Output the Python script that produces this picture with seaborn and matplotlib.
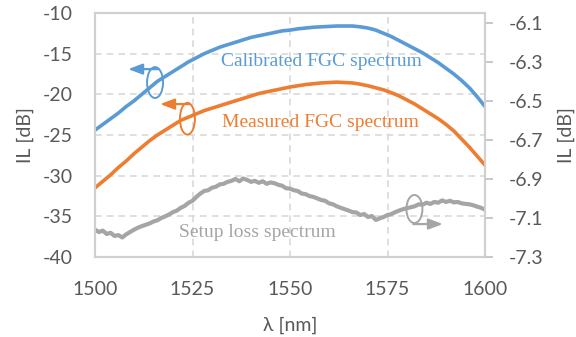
import numpy as np
import pandas as pd
import matplotlib
matplotlib.use("Agg")
import matplotlib.pyplot as plt
from matplotlib.patches import Ellipse
import seaborn as sns

# ---------------- data ----------------
wl_fgc = list(range(1500, 1601, 2))
calibrated = [-24.4, -23.7, -23.0, -22.3, -21.5, -20.8, -20.0, -19.2, -18.4, -17.8,
              -17.2, -16.6, -16.0, -15.5, -15.0, -14.6, -14.2, -13.9, -13.6, -13.3,
              -13.0, -12.8, -12.6, -12.4, -12.2, -12.1, -11.95, -11.85, -11.75, -11.7,
              -11.65, -11.6, -11.6, -11.6, -11.7, -11.85, -12.1, -12.5, -12.9, -13.4,
              -13.9, -14.4, -14.9, -15.5, -16.1, -16.8, -17.5, -18.3, -19.2, -20.3, -21.5]
measured = [-31.5, -30.7, -29.9, -29.0, -28.2, -27.3, -26.5, -25.7, -25.0, -24.4,
            -23.8, -23.2, -22.8, -22.4, -22.0, -21.7, -21.4, -21.1, -20.8, -20.5,
            -20.2, -19.9, -19.7, -19.5, -19.3, -19.1, -18.95, -18.8, -18.7, -18.6,
            -18.55, -18.5, -18.55, -18.6, -18.75, -18.95, -19.2, -19.45, -19.8, -20.2,
            -20.7, -21.2, -21.8, -22.4, -23.0, -23.7, -24.5, -25.5, -26.5, -27.6, -28.7]
wl_setup = list(range(1500, 1601, 1))
setup = [-7.160, -7.172, -7.165, -7.182, -7.176, -7.192, -7.188, -7.200, -7.184, -7.172,
         -7.160, -7.150, -7.142, -7.135, -7.128, -7.118, -7.112, -7.100, -7.092, -7.082,
         -7.070, -7.062, -7.048, -7.038, -7.022, -7.012, -6.992, -6.975, -6.962, -6.958,
         -6.945, -6.940, -6.928, -6.925, -6.915, -6.910, -6.900, -6.912, -6.898, -6.905,
         -6.915, -6.910, -6.920, -6.912, -6.925, -6.918, -6.922, -6.930, -6.935, -6.948,
         -6.950, -6.958, -6.962, -6.975, -6.978, -6.988, -6.992, -7.000, -7.008, -7.012,
         -7.025, -7.030, -7.040, -7.048, -7.055, -7.062, -7.070, -7.072, -7.085, -7.080,
         -7.095, -7.090, -7.110, -7.102, -7.095, -7.085, -7.080, -7.070, -7.062, -7.055,
         -7.050, -7.045, -7.040, -7.030, -7.032, -7.022, -7.028, -7.018, -7.022, -7.010,
         -7.018, -7.012, -7.020, -7.018, -7.025, -7.028, -7.030, -7.035, -7.042, -7.048,
         -7.058]

x_ticks = [1500, 1525, 1550, 1575, 1600]
left_ticks = [-40, -35, -30, -25, -20, -15, -10]
right_ticks = [-7.3, -7.1, -6.9, -6.7, -6.5, -6.3, -6.1]

BLUE = "#5B9BD5"
ORANGE = "#ED7D31"
GRAY = "#A5A5A5"
TXT = "#595959"
GRID = "#D9D9D9"

# ---------------- style ----------------
sns.set_style("white")
plt.rcParams["font.family"] = ["Lato", "DejaVu Sans"]
plt.rcParams["axes.unicode_minus"] = False

fig = plt.figure(figsize=(5.76, 3.37), dpi=100)
ax = fig.add_axes([95 / 576, 1 - 257 / 337, 390 / 576, 244 / 337])

df_fgc = pd.DataFrame({"wl": wl_fgc, "cal": calibrated, "meas": measured})
df_setup = pd.DataFrame({"wl": wl_setup, "setup": setup})

sns.lineplot(data=df_fgc, x="wl", y="cal", ax=ax, color=BLUE, lw=2.6)
sns.lineplot(data=df_fgc, x="wl", y="meas", ax=ax, color=ORANGE, lw=2.6)

ax.set_xlim(1500, 1600)
ax.set_ylim(-40, -10)
ax.set_xticks(x_ticks)
ax.set_yticks(left_ticks)
ax.set_yticklabels([str(v) for v in left_ticks])
ax.grid(True, color=GRID, ls=(0, (4, 3)), lw=1.2)
ax.tick_params(axis="y", length=0, pad=16, labelsize=14, labelcolor=TXT)
ax.tick_params(axis="x", length=0, pad=17, labelsize=14, labelcolor=TXT)
for s in ax.spines.values():
    s.set_color("#D0D0D0")
    s.set_linewidth(1.5)
ax.set_xlabel("λ [nm]", fontsize=14, color=TXT)
ax.xaxis.set_label_coords(0.5, -0.279)
ax.xaxis.label.set_va("center")
ax.set_ylabel("IL [dB]", fontsize=14, color=TXT)
ax.yaxis.set_label_coords(-0.1795, 0.5)
ax.yaxis.label.set_va("center")

ax2 = ax.twinx()
sns.lineplot(data=df_setup, x="wl", y="setup", ax=ax2, color=GRAY, lw=3.0)
ax2.set_ylim(-7.3, -6.05)
ax2.set_yticks(right_ticks)
ax2.set_yticklabels([f"{v:.1f}" for v in right_ticks])
ax2.tick_params(axis="y", length=6, width=1.2, color="#BFBFBF", pad=11,
                labelsize=14, labelcolor=TXT)
for s in ax2.spines.values():
    s.set_color("#D0D0D0")
    s.set_linewidth(1.5)
ax2.set_ylabel("IL [dB]", fontsize=14, color=TXT, rotation=90)
ax2.yaxis.set_label_coords(1.2077, 0.5)
ax2.yaxis.label.set_va("center")
ax2.yaxis.label.set_ha("center")

# ---------------- annotations ----------------
serif = "Liberation Serif"
ax.text(1558.1, -16.5, "Calibrated FGC spectrum", color=BLUE, fontsize=14,
        family=serif, ha="center", va="baseline")
ax.text(1557.9, -24.05, "Measured FGC spectrum", color=ORANGE, fontsize=14,
        family=serif, ha="center", va="baseline")
ax.text(1541.7, -37.55, "Setup loss spectrum", color=GRAY, fontsize=14,
        family=serif, ha="center", va="baseline")


def marker(axis, cx, cy, w, h, start, tip, color):
    axis.add_patch(Ellipse((cx, cy), w, h, fill=False, edgecolor=color, lw=1.4, zorder=5))
    axis.annotate("", xy=tip, xytext=start,
                  arrowprops=dict(arrowstyle="-|>,head_length=0.85,head_width=0.32",
                                  color=color, lw=1.6, shrinkA=0, shrinkB=0,
                                  mutation_scale=10), zorder=5)


marker(ax, 1515.4, -18.55, 4.1, 3.8, (1516.2, -16.9), (1508.5, -16.9), BLUE)
marker(ax, 1523.7, -23.0, 3.85, 3.9, (1524.3, -21.2), (1516.7, -21.2), ORANGE)
marker(ax, 1581.9, -34.1, 4.1, 3.45, (1581.6, -35.95), (1589.2, -35.95), GRAY)

fig.savefig("out.png", dpi=100)
